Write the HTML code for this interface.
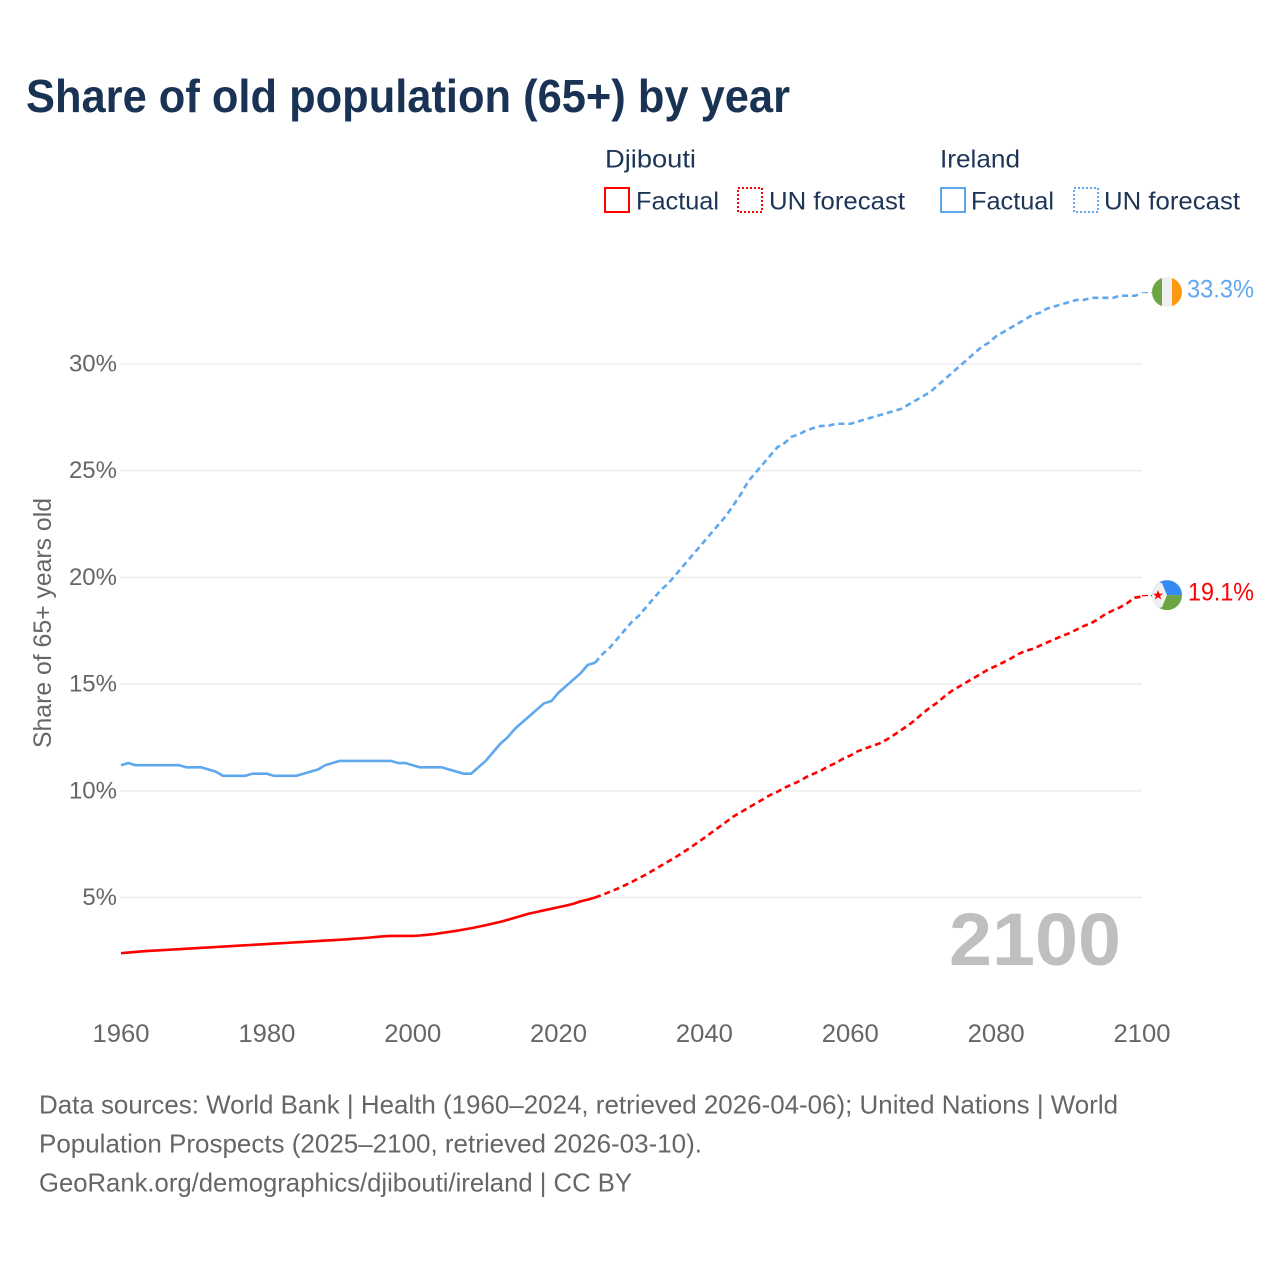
<!DOCTYPE html>
<html lang="en">
<head>
<meta charset="utf-8">
<title>Share of old population (65+) by year</title>
<style>
html,body{margin:0;padding:0;background:#fff;}
svg{display:block;font-family:"Liberation Sans",sans-serif;}
</style>
</head>
<body>
<svg id="chart" xmlns="http://www.w3.org/2000/svg" width="1280" height="1280" viewBox="0 0 1280 1280">
  <rect x="0" y="0" width="1280" height="1280" fill="#ffffff"/>
  <text x="26" y="112" font-size="46" font-weight="700" fill="#1a3354" textLength="764" lengthAdjust="spacingAndGlyphs">Share of old population (65+) by year</text>

  <g font-size="25" fill="#1d3557">
    <text x="605" y="167.5" textLength="91" lengthAdjust="spacingAndGlyphs">Djibouti</text>
    <rect x="605" y="188" width="24" height="24" fill="none" stroke="#ff0000" stroke-width="2"/>
    <text x="636" y="209.5" textLength="83" lengthAdjust="spacingAndGlyphs">Factual</text>
    <rect x="738" y="188" width="24" height="24" fill="none" stroke="#ff0000" stroke-width="2" stroke-dasharray="2 2"/>
    <text x="769" y="209.5" textLength="136" lengthAdjust="spacingAndGlyphs">UN forecast</text>
    <text x="940" y="167.5" textLength="80" lengthAdjust="spacingAndGlyphs">Ireland</text>
    <rect x="941" y="188" width="24" height="24" fill="none" stroke="#5fa8ee" stroke-width="2"/>
    <text x="971" y="209.5" textLength="83" lengthAdjust="spacingAndGlyphs">Factual</text>
    <rect x="1074" y="188" width="24" height="24" fill="none" stroke="#5fa8ee" stroke-width="2" stroke-dasharray="2 2"/>
    <text x="1104" y="209.5" textLength="136" lengthAdjust="spacingAndGlyphs">UN forecast</text>
  </g>

  <g id="grid"></g>
  <g id="yticks" font-size="24" fill="#666666" text-anchor="end"></g>
  <g id="xticks" font-size="25" fill="#666666" text-anchor="middle"></g>
  <text transform="translate(51,748) rotate(-90)" font-size="25" fill="#666666" textLength="250" lengthAdjust="spacingAndGlyphs">Share of 65+ years old</text>
  <text x="949" y="965" font-size="74" font-weight="700" fill="#bfbfbf" textLength="172" lengthAdjust="spacingAndGlyphs">2100</text>
  <g id="series"></g>

  <g id="flag-ireland">
    <clipPath id="clip-ie"><circle cx="0" cy="0" r="15"/></clipPath>
    <g clip-path="url(#clip-ie)">
      <rect x="-15" y="-15" width="10" height="30" fill="#6da544"/>
      <rect x="-5" y="-15" width="10" height="30" fill="#f0f0f0"/>
      <rect x="5" y="-15" width="10" height="30" fill="#ff9811"/>
    </g>
  </g>
  <g id="flag-djibouti">
    <clipPath id="clip-dj"><circle cx="0" cy="0" r="15"/></clipPath>
    <g clip-path="url(#clip-dj)">
      <rect x="-15" y="-15" width="30" height="15" fill="#338af3"/>
      <rect x="-15" y="0" width="30" height="15" fill="#6da544"/>
      <polygon points="-15,-15 -15,15 -5,12 0,0 -5,-12" fill="#f0f0f0"/>
      <polygon points="-9,-5 -7.6,-1.4 -4,-1.4 -6.9,0.8 -5.8,4.4 -9,2.2 -12.2,4.4 -11.1,0.8 -14,-1.4 -10.4,-1.4" fill="#ff0000"/>
    </g>
  </g>
  <text id="end-ireland" x="1187" font-size="25" fill="#5fa8ee" textLength="67" lengthAdjust="spacingAndGlyphs">33.3%</text>
  <text id="end-djibouti" x="1188" font-size="25" fill="#ff0000" textLength="66" lengthAdjust="spacingAndGlyphs">19.1%</text>

  <g font-size="26" fill="#666666">
    <text x="39" y="1113.5" textLength="1079" lengthAdjust="spacingAndGlyphs">Data sources: World Bank | Health (1960–2024, retrieved 2026-04-06); United Nations | World</text>
    <text x="39" y="1152.5" textLength="663" lengthAdjust="spacingAndGlyphs">Population Prospects (2025–2100, retrieved 2026-03-10).</text>
    <text x="39" y="1191.5" textLength="593" lengthAdjust="spacingAndGlyphs">GeoRank.org/demographics/djibouti/ireland | CC BY</text>
  </g>
</svg>
<script>
var yTicks = [5, 10, 15, 20, 25, 30];
var xTicks = [1960, 1980, 2000, 2020, 2040, 2060, 2080, 2100];
var factualStartYear = 1960;
var forecastStartYear = 2025;
var irelandFactual = [
  11.2,11.3,11.2,11.2,11.2,11.2,11.2,11.2,11.2,11.1,
  11.1,11.1,11.0,10.9,10.7,10.7,10.7,10.7,10.8,10.8,
  10.8,10.7,10.7,10.7,10.7,10.8,10.9,11.0,11.2,11.3,
  11.4,11.4,11.4,11.4,11.4,11.4,11.4,11.4,11.3,11.3,
  11.2,11.1,11.1,11.1,11.1,11.0,10.9,10.8,10.8,11.1,
  11.4,11.8,12.2,12.5,12.9,13.2,13.5,13.8,14.1,14.2,
  14.6,14.9,15.2,15.5,15.9,16.0
];
var irelandForecast = [
  16.0,16.4,16.7,17.1,17.5,17.9,18.2,18.6,19.0,19.4,
  19.7,20.1,20.5,20.9,21.3,21.7,22.1,22.5,22.9,23.4,
  23.9,24.5,24.9,25.3,25.7,26.1,26.3,26.6,26.7,26.9,
  27.0,27.1,27.1,27.2,27.2,27.2,27.3,27.4,27.5,27.6,
  27.7,27.8,27.9,28.1,28.3,28.5,28.7,29.0,29.3,29.6,
  29.9,30.2,30.5,30.8,31.0,31.3,31.5,31.7,31.9,32.1,
  32.3,32.4,32.6,32.7,32.8,32.9,33.0,33.0,33.1,33.1,
  33.1,33.1,33.2,33.2,33.2,33.3
];
var djiboutiFactual = [
  2.39,2.42,2.45,2.48,2.50,2.52,2.54,2.56,2.58,2.60,
  2.62,2.64,2.66,2.68,2.70,2.72,2.74,2.76,2.78,2.80,
  2.82,2.84,2.86,2.88,2.90,2.92,2.94,2.96,2.98,3.00,
  3.02,3.04,3.07,3.09,3.12,3.15,3.18,3.20,3.20,3.20,
  3.20,3.22,3.25,3.29,3.34,3.39,3.44,3.50,3.56,3.63,
  3.70,3.78,3.86,3.95,4.05,4.15,4.25,4.32,4.40,4.47,
  4.55,4.62,4.70,4.82,4.90,5.00
];
var djiboutiForecast = [
  5.00,5.12,5.26,5.40,5.56,5.72,5.90,6.08,6.28,6.48,
  6.68,6.88,7.10,7.32,7.56,7.80,8.05,8.30,8.55,8.80,
  9.00,9.20,9.40,9.60,9.80,9.95,10.15,10.30,10.45,10.65,
  10.80,10.95,11.15,11.30,11.50,11.65,11.85,11.98,12.10,12.22,
  12.40,12.62,12.85,13.08,13.35,13.65,13.92,14.15,14.45,14.70,
  14.90,15.10,15.30,15.50,15.70,15.85,16.02,16.20,16.40,16.55,
  16.65,16.80,16.95,17.10,17.25,17.38,17.55,17.72,17.85,18.05,
  18.28,18.45,18.60,18.80,19.05,19.10
];

var NS = 'http://www.w3.org/2000/svg';
function xScale(year) { return 121 + (year - 1960) * (1142 - 121) / 140; }
function yScale(v) { return 897.5 - (v - 5) * 21.34; }
function pathFor(values, startYear) {
  return values.map(function (v, i) {
    return (i ? 'L' : 'M') + xScale(startYear + i).toFixed(2) + ' ' + yScale(v).toFixed(2);
  }).join(' ');
}

var gridGroup = document.getElementById('grid');
var yGroup = document.getElementById('yticks');
yTicks.forEach(function (t) {
  var g = document.createElementNS(NS, 'line');
  
  
  g.setAttribute('x1', 120);
  g.setAttribute('x2', 1142);
  g.setAttribute('y1', yScale(t));
  g.setAttribute('y2', yScale(t));
  g.setAttribute('stroke', '#eeeeee');
  g.setAttribute('stroke-width', 1.6);
  gridGroup.appendChild(g);
  var l = document.createElementNS(NS, 'text');
  
  
  l.setAttribute('x', 117);
  l.setAttribute('y', yScale(t) + 7.5);
  l.textContent = t + '%';
  yGroup.appendChild(l);
});

var xGroup = document.getElementById('xticks');
xTicks.forEach(function (t) {
  var l = document.createElementNS(NS, 'text');
  
  
  l.setAttribute('x', xScale(t));
  l.setAttribute('y', 1042);
  l.setAttribute('textLength', 57);
  l.setAttribute('lengthAdjust', 'spacingAndGlyphs');
  l.textContent = String(t);
  xGroup.appendChild(l);
});

var seriesGroup = document.getElementById('series');
function addLine(name, d, color, dash, width) {
  var p = document.createElementNS(NS, 'path');
  
  
  p.setAttribute('d', d);
  p.setAttribute('fill', 'none');
  p.setAttribute('stroke', color);
  p.setAttribute('stroke-width', width);
  p.setAttribute('stroke-linejoin', 'round');
  if (dash) p.setAttribute('stroke-dasharray', dash);
  seriesGroup.appendChild(p);
}
addLine('ireland-factual-line', pathFor(irelandFactual, factualStartYear), '#5fa8ee', null, 2.6);
addLine('ireland-forecast-line', pathFor(irelandForecast, forecastStartYear), '#5fa8ee', '6 4', 2.6);
addLine('djibouti-factual-line', pathFor(djiboutiFactual, factualStartYear), '#ff0000', null, 2.6);
addLine('djibouti-forecast-line', pathFor(djiboutiForecast, forecastStartYear), '#ff0000', '6 4', 2.6);

var ieLast = irelandForecast[irelandForecast.length - 1];
var djLast = djiboutiForecast[djiboutiForecast.length - 1];
addLine('ireland-end-connector', 'M' + xScale(2100) + ' ' + (yScale(ieLast) - 1) + ' L1152 ' + (yScale(ieLast) - 1), '#5fa8ee', '6 3', 1.2);
addLine('djibouti-end-connector', 'M' + xScale(2100) + ' ' + (yScale(djLast) - 1) + ' L1152 ' + (yScale(djLast) - 1), '#ff0000', '6 3', 1.2);

document.getElementById('flag-ireland').setAttribute('transform', 'translate(1167,' + (yScale(ieLast) - 1.5) + ')');
document.getElementById('flag-djibouti').setAttribute('transform', 'translate(1167,' + (yScale(djLast) - 1.5) + ')');
document.getElementById('end-ireland').setAttribute('y', yScale(ieLast) + 4);
document.getElementById('end-djibouti').setAttribute('y', yScale(djLast) + 4);
document.getElementById('end-ireland').textContent = ieLast.toFixed(1) + '%';
document.getElementById('end-djibouti').textContent = djLast.toFixed(1) + '%';
</script>
</body>
</html>
